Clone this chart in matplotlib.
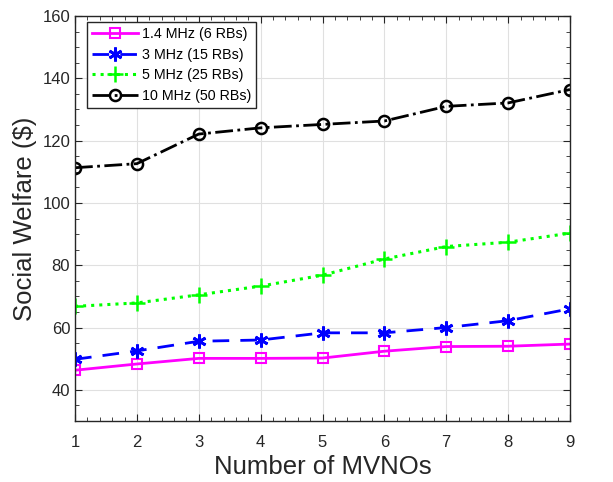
import numpy as np
import matplotlib.pyplot as plt
from matplotlib.ticker import MultipleLocator

plt.rcParams['font.family'] = ['Liberation Sans', 'DejaVu Sans']

mvnos = [1, 2, 3, 4, 5, 6, 7, 8, 9]
sw_1_4 = [46.3, 48.3, 50.1, 50.1, 50.2, 52.4, 53.9, 54.0, 54.7]
sw_3 = [49.8, 52.5, 55.6, 56.0, 58.3, 58.3, 60.0, 62.2, 66.0]
sw_5 = [66.8, 67.9, 70.5, 73.3, 76.8, 82.0, 86.0, 87.4, 90.3]
sw_10 = [111.3, 112.6, 122.1, 124.1, 125.2, 126.3, 131.0, 132.1, 136.4]

fig = plt.figure(figsize=(6.13, 4.82), dpi=100)
ax = fig.add_axes([75 / 613, 1 - 421 / 482, 495 / 613, 405 / 482])

ax.plot(mvnos, sw_1_4, '-s', color='#ff00ff', linewidth=2, markersize=7,
        markerfacecolor='none', markeredgewidth=1.5, label='1.4 MHz (6 RBs)')
ax.plot(mvnos, sw_3, '--', marker=(6, 2, 0), color='#0000ff', linewidth=2, markersize=10,
        markeredgewidth=2, label='3 MHz (15 RBs)', dashes=(6, 4))
ax.plot(mvnos, sw_5, ':+', color='#00ff00', linewidth=2.2, markersize=11,
        markeredgewidth=1.8, label='5 MHz (25 RBs)')
ax.plot(mvnos, sw_10, '-.o', color='black', linewidth=2, markersize=8,
        markerfacecolor='none', markeredgewidth=1.8, label='10 MHz (50 RBs)')

ax.set_xlim(1, 9)
ax.set_ylim(30, 160)
ax.set_yticks([40, 60, 80, 100, 120, 140, 160])
ax.xaxis.set_minor_locator(MultipleLocator(0.2))
ax.yaxis.set_minor_locator(MultipleLocator(5))
ax.tick_params(which='both', direction='in', top=True, right=True, labelsize=12, colors='#262626')
ax.tick_params(which='major', length=5)
ax.tick_params(which='minor', length=3)
ax.tick_params(axis='x', pad=10)
ax.grid(True, which='major', color='#e0e0e0', linewidth=0.8)
ax.set_axisbelow(True)
for s in ax.spines.values():
    s.set_color('#262626')
    s.set_linewidth(1)

ax.set_xlabel('Number of MVNOs', fontsize=18.5, color='#262626')
ax.set_ylabel('Social Welfare ($)', fontsize=18.5, color='#262626')

leg = ax.legend(loc='upper left', bbox_to_anchor=(0.015, 0.995), fontsize=10.3,
                fancybox=False, framealpha=1, edgecolor='#262626',
                handlelength=3.2, borderpad=0.35, labelspacing=0.45, handletextpad=0.3,
                borderaxespad=0.3)
leg.get_frame().set_linewidth(1)

fig.savefig('out.png', dpi=100)
